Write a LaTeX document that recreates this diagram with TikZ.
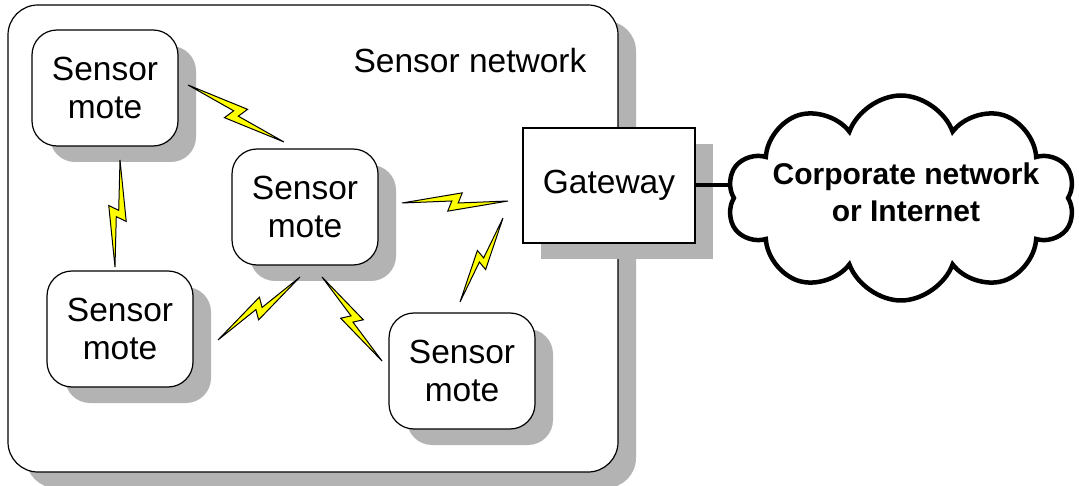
\documentclass[tikz,border=0pt]{standalone}
\usepackage{fontspec}
\setmainfont{Liberation Sans}
\usetikzlibrary{calc,shapes.symbols}
\definecolor{shadowgray}{RGB}{179,179,179}
\definecolor{boltyellow}{RGB}{255,255,0}
\begin{document}
\begin{tikzpicture}[x=1pt,y=-1pt,
  shadowed/.style={preaction={fill=shadowgray,draw=none,transform canvas={xshift=18pt,yshift=-16pt}}},
  netbox/.style={shadowed,draw,fill=white,line width=1.2pt,rounded corners=30pt,minimum width=610pt,minimum height=467pt,inner sep=0pt},
  mote/.style={shadowed,draw,fill=white,line width=1.2pt,rounded corners=25pt,minimum width=146pt,minimum height=116pt,align=center,inner sep=0pt,font=\fontsize{33.5}{38}\selectfont},
  gate/.style={shadowed,draw,fill=white,line width=1.2pt,minimum width=172pt,minimum height=115pt,inner sep=0pt,font=\fontsize{33.5}{38}\selectfont},
  bolt/.style={draw=black,fill=boltyellow,line width=1pt,line join=miter,
    to path={-- ($(\tikztostart)!0.5763!8.48:(\tikztotarget)$)
             -- ($(\tikztostart)!0.5301!-1.08:(\tikztotarget)$)
             -- (\tikztotarget)
             -- ($(\tikztostart)!0.4383!-11.18:(\tikztotarget)$)
             -- ($(\tikztostart)!0.4701!1.22:(\tikztotarget)$)
             -- cycle}},
  link/.style={draw=black,line width=4pt},
  cloudshape/.style={cloud,cloud puffs=10,cloud puff arc=140,aspect=1.7,draw,fill=white,line width=4.5pt,minimum width=348pt,minimum height=205pt,inner sep=0pt}
]
\useasboundingbox (0,0) rectangle (1079,486);
\fill[white] (0,0) rectangle (1079,486);

\node[netbox] (net) at (313,238.5) {};
\node[anchor=base,font=\fontsize{33.5}{38}\selectfont] (nettitle) at (470,73) {Sensor network};

\node[mote] (m1) at (105,88) {Sensor\\mote};
\node[mote] (m2) at (305,207) {Sensor\\mote};
\node[mote] (m3) at (120,329) {Sensor\\mote};
\node[mote] (m4) at (462,371) {Sensor\\mote};
\node[gate] (gw) at (609,185.5) {Gateway};

% lightning links
\coordinate (b1a) at (188,85);  \coordinate (b1b) at (284,142);
\coordinate (b2a) at (120,160); \coordinate (b2b) at (115,267);
\coordinate (b3a) at (402,203); \coordinate (b3b) at (508,201);
\coordinate (b4a) at (503,218); \coordinate (b4b) at (460,302);
\coordinate (b5a) at (300,277); \coordinate (b5b) at (218,340);
\coordinate (b6a) at (322,277); \coordinate (b6b) at (382,361);
\draw[bolt] (b1a) to (b1b);
\draw[bolt] (b2a) to (b2b);
\draw[bolt] (b3a) to (b3b);
\draw[bolt] (b4a) to (b4b);
\draw[bolt] (b5a) to (b5b);
\draw[bolt] (b6a) to (b6b);

% gateway to cloud
\coordinate (cc) at (901,198);
\draw[link] (gw.east) -- (gw.east -| cc);
\node[cloudshape] (cloud) at (cc) {};
\node[align=center,font=\bfseries\fontsize{30}{37}\selectfont] (ctext) at (906,192) {Corporate network\\or Internet};
\end{tikzpicture}
\end{document}
